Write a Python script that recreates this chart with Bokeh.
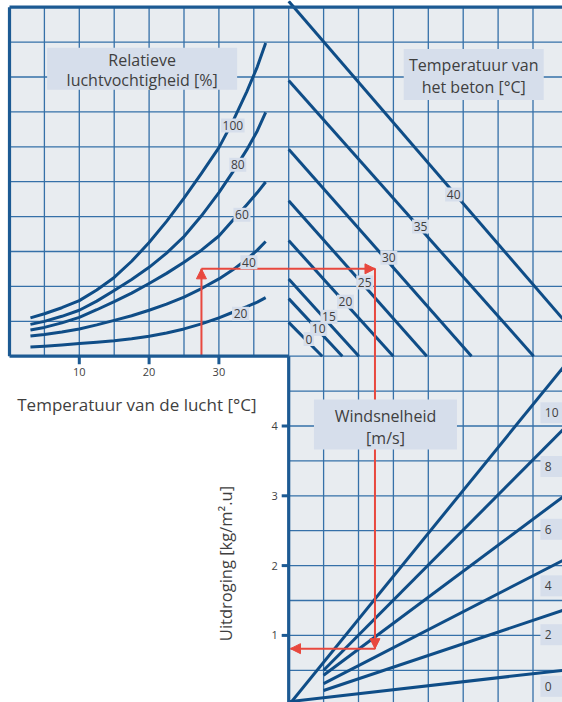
from bokeh.plotting import figure
from bokeh.models import Range1d, Arrow, NormalHead
from bokeh.core.properties import value
from bokeh.embed import file_html
from bokeh.resources import INLINE

# ---------------- data ----------------
# Relative humidity curves: air temperature [°C] -> vapour pressure of the air (hidden axis, hPa)
air_temp = [3, 5, 7.5, 10, 12.5, 15, 17.5, 20, 22.5, 25, 27.5, 30, 32, 34, 35.5, 36.7]
rh_levels = [100, 80, 60, 40, 20]
vp_rh100 = [7.6, 8.4, 9.6, 11.0, 13.1, 15.6, 18.8, 22.5, 26.7, 31.3, 36.2, 41.3, 46.5, 52.4, 57.3, 62.0]
vp_rh80 = [6.3, 6.9, 7.9, 9.1, 10.9, 13.0, 15.2, 17.6, 20.4, 23.7, 27.8, 32.4, 36.5, 40.9, 44.6, 48.3]
vp_rh60 = [5.2, 5.7, 6.6, 7.7, 9.2, 10.8, 12.5, 14.4, 16.4, 18.6, 21.0, 23.8, 26.9, 30.0, 32.4, 34.5]
vp_rh40 = [4.0, 4.3, 4.8, 5.4, 6.2, 7.1, 8.0, 9.1, 10.3, 11.7, 13.4, 15.3, 17.1, 19.2, 21.0, 22.7]
vp_rh20 = [1.8, 1.95, 2.2, 2.5, 2.75, 3.05, 3.45, 3.95, 4.6, 5.4, 6.4, 7.6, 8.7, 9.8, 10.7, 11.6]
rh_label_temp = [32.0, 32.7, 33.3, 34.3, 33.1]
rh_label_vp = [45.7, 37.9, 28.0, 18.6, 8.4]

# Concrete temperature lines: from (difference 0, vp0) down to (difference end, vp 0)
concrete_temp = [0, 10, 15, 20, 25, 30, 35, 40]
concrete_vp0 = [6.7, 11.4, 15.3, 22.9, 30.8, 41.0, 54.6, 70.3]
concrete_dvp_end = [7.5, 12.0, 15.7, 23.4, 30.9, 40.9, 54.8, 68.5]
concrete_label_dvp = [4.5, 6.7, 9.0, 12.7, 17.0, 22.4, 29.5, 36.9]
concrete_label_vp = [3.4, 5.4, 7.8, 10.8, 14.6, 19.5, 25.7, 32.0]

# Wind speed lines: vapour pressure difference -> uitdroging [kg/m².u]
wind_speed = [0, 2, 4, 6, 8, 10]
wind_dvp_start = [0, 7.8, 7.8, 7.8, 7.8, 0]
wind_u_start = [0.05, 0.21, 0.31, 0.43, 0.50, 0.0]
wind_dvp_ref = 60
wind_u_ref = [0.49, 1.33, 2.03, 2.92, 3.86, 4.73]
wind_label_u = [0.27, 1.01, 1.71, 2.52, 3.42, 4.19]

# axis ticks
air_ticks = [10, 20, 30]
uit_ticks = [1, 2, 3, 4]

# worked example (red arrows)
ex_air_temp = 27.5
ex_vp = 17.3
ex_dvp = 19.3
ex_uit = 0.81
ex_dvp_tip = 0.4

# ---------------- layout ----------------
W, H = 562, 702
PX_C, PX_DX, PX_VP, PX_U = 6.98, 4.47, 5.05, 69.8
X_T0 = 9.0
Y_U0 = 704.7
T_SPLIT = 40.0
U_SPLIT = 5.0
U_PANEL_TOP = 10.0
X_D0 = X_T0 + T_SPLIT * PX_C
Y_V0 = Y_U0 - U_SPLIT * PX_U
T_STEP, U_STEP = 5, 0.5

BG = "#e8ecf0"
GRIDC = "#3570a8"
DARK = "#0f4d87"
FRAME = "#1c5a93"
BOX = "#d6deeb"
TXT = "#3f3f3f"
RED = "#e8483e"
FONT = value("Open Sans")

p = figure(width=W, height=H, output_backend="svg", toolbar_location=None, title=None,
           x_range=Range1d(-X_T0 / PX_C, (W - X_T0) / PX_C),
           y_range=Range1d((Y_U0 - H) / PX_U, Y_U0 / PX_U),
           x_axis_type=None, y_axis_type=None, min_border=0,
           outline_line_color=None, background_fill_color="white", border_fill_color="white")
p.extra_x_ranges = {"dvp": Range1d(-X_D0 / PX_DX, (W - X_D0) / PX_DX)}
p.extra_y_ranges = {"vp": Range1d(-(H - Y_V0) / PX_VP, Y_V0 / PX_VP)}

T_END = p.x_range.end + 2
U_BOT = p.y_range.start - 1

# panel backgrounds
p.quad(left=[0, T_SPLIT], right=[T_END, T_END], bottom=[U_SPLIT, U_BOT],
       top=[U_PANEL_TOP, U_SPLIT], fill_color=BG, line_color=None)

# grid
gxs, gys = [], []
k = 1
while k * T_STEP < T_END:
    t = k * T_STEP
    gxs.append([t, t]); gys.append([U_SPLIT if t <= T_SPLIT else U_BOT, U_PANEL_TOP])
    k += 1
j = 1
while j * U_STEP < U_PANEL_TOP:
    u = j * U_STEP
    gxs.append([T_SPLIT if u <= U_SPLIT else 0, T_END]); gys.append([u, u])
    j += 1
p.multi_line(gxs, gys, line_color=GRIDC, line_width=1.3)

# relative humidity curves
p.multi_line([air_temp] * 5, [vp_rh100, vp_rh80, vp_rh60, vp_rh40, vp_rh20], y_range_name="vp",
             line_color=DARK, line_width=3, line_join="round")

# concrete temperature lines
p.multi_line([[0, e] for e in concrete_dvp_end], [[v, 0] for v in concrete_vp0],
             x_range_name="dvp", y_range_name="vp", line_color=DARK, line_width=3)

# wind lines
x_far = p.extra_x_ranges["dvp"].end + 2
wxs, wys = [], []
for ds, us, ur in zip(wind_dvp_start, wind_u_start, wind_u_ref):
    slope = (ur - us) / (wind_dvp_ref - ds)
    wxs.append([ds, x_far]); wys.append([us, us + slope * (x_far - ds)])
p.multi_line(wxs, wys, x_range_name="dvp", line_color=DARK, line_width=3)

# red worked example (lines)
p.line([ex_air_temp, ex_air_temp], [0, ex_vp], y_range_name="vp", line_color=RED, line_width=2)
p.line([ex_air_temp, T_SPLIT], [ex_vp, ex_vp], y_range_name="vp", line_color=RED, line_width=2)
p.line([0, ex_dvp, ex_dvp], [ex_vp, ex_vp, 0], x_range_name="dvp", y_range_name="vp",
       line_color=RED, line_width=2)
p.line([ex_dvp, ex_dvp, ex_dvp_tip], [U_SPLIT, ex_uit, ex_uit], x_range_name="dvp",
       line_color=RED, line_width=2)

def head(x0, y0, x1, y1, **kw):
    p.add_layout(Arrow(end=NormalHead(size=10, fill_color=RED, line_color=RED, line_width=1),
                       x_start=x0, y_start=y0, x_end=x1, y_end=y1, line_alpha=0, **kw))

head(ex_air_temp, ex_vp - 1, ex_air_temp, ex_vp, y_range_name="vp")
head(ex_dvp - 1, ex_vp, ex_dvp, ex_vp, x_range_name="dvp", y_range_name="vp")
head(ex_dvp, ex_uit + 0.1, ex_dvp, ex_uit, x_range_name="dvp")
head(ex_dvp_tip + 1, ex_uit, ex_dvp_tip, ex_uit, x_range_name="dvp")

# frame lines
p.multi_line([[0, 0], [0, T_SPLIT], [T_SPLIT, T_SPLIT], [0, T_END]],
             [[U_SPLIT, U_PANEL_TOP], [U_SPLIT, U_SPLIT], [U_SPLIT, U_BOT],
              [U_PANEL_TOP, U_PANEL_TOP]],
             line_color=FRAME, line_width=3.2)

# axis ticks
tick_len_u = 8 / PX_U
tick_len_t = 7 / PX_C
p.segment(x0=air_ticks, y0=[U_SPLIT] * 3, x1=air_ticks, y1=[U_SPLIT - tick_len_u] * 3,
          line_color=FRAME, line_width=3)
p.segment(x0=[T_SPLIT] * 4, y0=uit_ticks, x1=[T_SPLIT - tick_len_t] * 4, y1=uit_ticks,
          line_color=FRAME, line_width=3)
p.text(x=air_ticks, y=[U_SPLIT] * 3, text=[str(t) for t in air_ticks], y_offset=16,
       text_align="center", text_baseline="middle", text_font=FONT, text_font_size="11px",
       text_color=TXT)
p.text(x=[T_SPLIT] * 4, y=uit_ticks, text=[str(t) for t in uit_ticks], x_offset=-11,
       text_align="right", text_baseline="middle", text_font=FONT, text_font_size="11px",
       text_color=TXT)

# axis titles
p.text(x=[18.25], y=[U_SPLIT], text=["Temperatuur van de lucht [°C]"], y_offset=48,
       text_align="center", text_baseline="middle", text_font=FONT, text_font_size="17px",
       text_color=TXT)
p.text(x=[30.95], y=[2.03], text=["Uitdroging [kg/m².u]"], angle=1.5708,
       text_align="center", text_baseline="middle", text_font=FONT, text_font_size="16.5px",
       text_color=TXT)

# title boxes
def titled_box(x, y, w, h, lines, ys, **kw):
    p.rect(x=[x], y=[y], width=w, height=h, width_units="screen", height_units="screen",
           fill_color=BOX, line_color=None, **kw)
    p.text(x=[x] * len(lines), y=ys, text=lines, text_align="center", text_baseline="middle",
           text_font=FONT, text_font_size="16px", text_color=TXT, **kw)

titled_box(19.0, 56.9, 190, 42, ["Relatieve", "luchtvochtigheid [%]"], [58.75, 54.6],
           y_range_name="vp")
titled_box(41.4, 55.8, 140, 51, ["Temperatuur van", "het beton [°C]"], [57.76, 53.3],
           x_range_name="dvp", y_range_name="vp")
titled_box(21.65, 4.02, 143, 50, ["Windsnelheid", "[m/s]"], [4.15, 3.835],
           x_range_name="dvp")

# small value labels
def value_labels(xs, ys, labels, **kw):
    p.rect(x=xs, y=ys, width=[6.5 * len(s) + 4 for s in labels], height=14,
           width_units="screen", height_units="screen", fill_color=BOX, line_color=None, **kw)
    p.text(x=xs, y=ys, text=labels, text_align="center", text_baseline="middle",
           text_font=FONT, text_font_size="12px", text_color=TXT, **kw)

value_labels(rh_label_temp, rh_label_vp, [str(v) for v in rh_levels], y_range_name="vp")
value_labels(concrete_label_dvp, concrete_label_vp, [str(v) for v in concrete_temp],
             x_range_name="dvp", y_range_name="vp")

WIND_BOX_DVP = 59.0
WIND_TXT_DVP = 57.3
p.rect(x=[WIND_BOX_DVP] * 6, y=wind_label_u, width=24, height=21, width_units="screen",
       height_units="screen", fill_color=BOX, line_color=None, x_range_name="dvp")
p.text(x=[WIND_TXT_DVP] * 6, y=wind_label_u, text=[str(v) for v in wind_speed],
       text_align="left", text_baseline="middle", text_font=FONT, text_font_size="12px",
       text_color=TXT, x_range_name="dvp")

open("out.html", "w").write(file_html(p, INLINE))
